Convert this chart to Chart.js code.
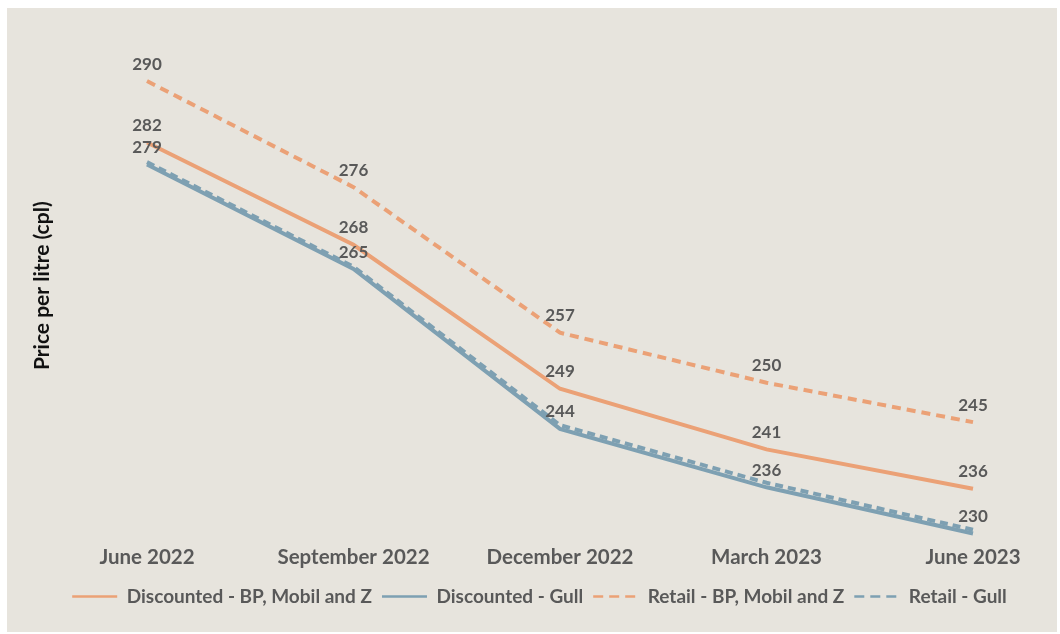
<!DOCTYPE html>
<html>
<head>
<meta charset="utf-8">
<script src="https://cdn.jsdelivr.net/npm/chart.js@4"></script>
<style>
  html, body { margin: 0; padding: 0; background: #ffffff; }
  #wrap { position: absolute; left: 7px; top: 8px; width: 1050px; height: 624px; background: #e7e4dd; }
</style>
</head>
<body>
<div id="wrap"><canvas id="priceChart" width="1050" height="624"></canvas></div>
<script>
var quarters = ['June 2022', 'September 2022', 'December 2022', 'March 2023', 'June 2023'];
var discountedBP = [281.9, 268.4, 249.4, 241.4, 236.2];
var discountedGull = [279.0, 265.2, 244.1, 236.4, 230.3];
var retailBP = [290.0, 276.0, 256.8, 250.2, 245.0];
var retailGull = [279.3, 265.5, 244.6, 237.0, 230.8];

var orange = '#eba176';
var blue = '#7ea0b2';
var textGrey = '#595959';

// writes the value above each point, like the excel data labels
var valueLabels = {
    id: 'valueLabels',
    afterDatasetsDraw: function(chart) {
        var c = chart.ctx;
        c.save();
        c.font = 'bold 17px Lato';
        c.fillStyle = textGrey;
        c.textAlign = 'center';
        c.textBaseline = 'middle';
        chart.data.datasets.forEach(function(ds, i) {
            if (!ds.showValues) return;
            chart.getDatasetMeta(i).data.forEach(function(pt, j) {
                c.fillText(Math.round(ds.data[j]), pt.x, pt.y - 17);
            });
        });
        c.restore();
    }
};

var ctx = document.getElementById('priceChart').getContext('2d');
var priceChart = new Chart(ctx, {
    type: 'line',
    data: {
        labels: quarters,
        datasets: [{
            label: 'Discounted - BP, Mobil and Z',
            data: discountedBP,
            borderColor: orange,
            backgroundColor: orange,
            borderWidth: 4,
            showValues: true
        }, {
            label: 'Discounted - Gull',
            data: discountedGull,
            borderColor: blue,
            backgroundColor: blue,
            borderWidth: 4,
            showValues: true
        }, {
            label: 'Retail - BP, Mobil and Z',
            data: retailBP,
            borderColor: orange,
            backgroundColor: orange,
            borderWidth: 4,
            borderDash: [9, 6],
            showValues: true
        }, {
            label: 'Retail - Gull',
            data: retailGull,
            borderColor: blue,
            backgroundColor: blue,
            borderWidth: 4,
            borderDash: [8, 5],
            showValues: false
        }]
    },
    options: {
        responsive: false,
        animation: false,
        elements: {
            point: { radius: 0, hoverRadius: 0 },
            line: { tension: 0 }
        },
        layout: { padding: { left: 15, right: 0, top: 20, bottom: 16 } },
        scales: {
            x: {
                offset: false,
                grid: { display: false, drawTicks: false },
                border: { display: false },
                ticks: {
                    color: textGrey,
                    font: { family: 'Lato', size: 20.5, weight: 'bold' },
                    maxRotation: 0,
                    padding: 2
                },
                afterFit: function(scale) {
                    scale.height += 5;
                    scale.paddingRight = 84;
                }
            },
            y: {
                min: 229,
                max: 297,
                grid: { display: false, drawTicks: false },
                border: { display: false },
                ticks: { display: false },
                title: {
                    display: true,
                    text: 'Price per litre (cpl)',
                    color: '#111111',
                    font: { family: 'Lato', size: 21, weight: 'bold' },
                    padding: { top: 8, bottom: 0 }
                },
                afterFit: function(scale) {
                    scale.width = 125;
                }
            }
        },
        plugins: {
            tooltip: { enabled: false },
            legend: {
                position: 'bottom',
                labels: {
                    color: textGrey,
                    font: { family: 'Lato', size: 19, weight: 'bold' },
                    boxWidth: 45,
                    boxHeight: 0,
                    padding: 10,
                    generateLabels: function(chart) {
                        var items = Chart.defaults.plugins.legend.labels.generateLabels(chart);
                        items.forEach(function(it) {
                            it.lineWidth = 2.5;
                            it.fillStyle = 'rgba(0,0,0,0)';
                            if (it.lineDash && it.lineDash.length) it.lineDash = [9, 7];
                        });
                        return items;
                    }
                }
            }
        }
    },
    plugins: [valueLabels]
});
</script>
</body>
</html>
